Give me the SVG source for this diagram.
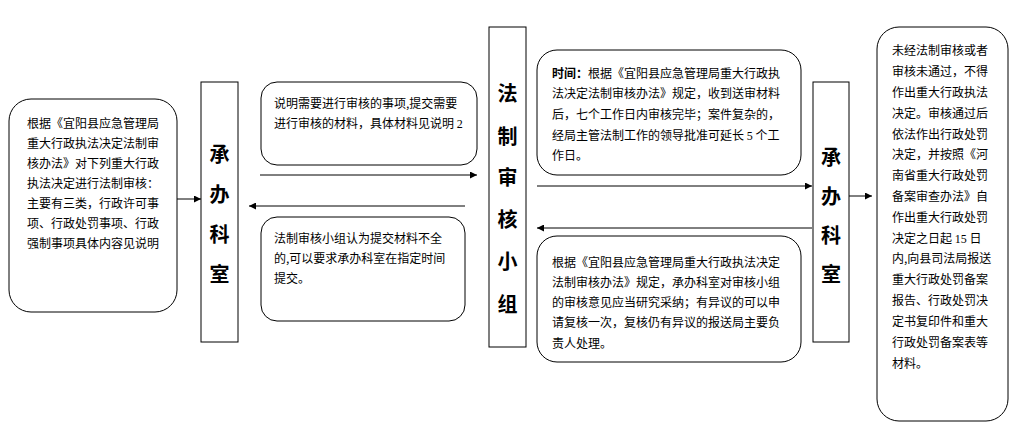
<svg xmlns="http://www.w3.org/2000/svg" width="1026" height="426" viewBox="0 0 1026 426">
<style>
.box{fill:#fff;stroke:#000;stroke-width:1}
.t{font-family:"Noto Sans CJK SC","Liberation Sans",sans-serif;font-size:12px;fill:#000}
.n{font-family:"Liberation Serif",serif}
.v{font-family:"Noto Sans CJK SC",sans-serif;font-size:20px;font-weight:bold;fill:#000;text-anchor:middle}
.c{stroke:#000;stroke-width:1;fill:none;marker-end:url(#ah)}
</style>
<defs>
<marker id="ah" viewBox="0 0 10 10" refX="10" refY="5" markerWidth="9" markerHeight="7" markerUnits="userSpaceOnUse" orient="auto">
<path d="M0,0 L10,5 L0,10 z" fill="#000"/>
</marker>
</defs>
<rect width="1026" height="426" fill="#fff"/>
<g id="connectors">
<line class="c" x1="177" y1="199" x2="201" y2="199"/>
<line class="c" x1="260" y1="175" x2="477" y2="175"/>
<line class="c" x1="465" y1="206" x2="249" y2="206"/>
<line class="c" x1="537" y1="186" x2="812" y2="186"/>
<line class="c" x1="812" y1="228" x2="537" y2="228"/>
<line class="c" x1="849" y1="196" x2="872" y2="196"/>
</g>
<g id="n_scope">
<rect class="box" x="9" y="99" width="168" height="213" rx="22"/>
<text class="t" x="27"><tspan x="27" y="127.5">根据《宜阳县应急管理局</tspan><tspan x="27" y="147.5">重大行政执法决定法制审</tspan><tspan x="27" y="167.5">核办法》对下列重大行政</tspan><tspan x="27" y="187.5">执法决定进行法制审核：</tspan><tspan x="27" y="207.5">主要有三类，行政许可事</tspan><tspan x="27" y="227.5">项、行政处罚事项、行政</tspan><tspan x="27" y="247.5">强制事项具体内容见说明</tspan></text>
</g>
<g id="n_dept1">
<rect class="box" x="201" y="82" width="37" height="260"/>
<text class="v" x="219.5" y="162">承</text>
<text class="v" x="219.5" y="202">办</text>
<text class="v" x="219.5" y="242">科</text>
<text class="v" x="219.5" y="282">室</text>
</g>
<g id="n_submit">
<rect class="box" x="261" y="82" width="216" height="83" rx="16"/>
<text class="t"><tspan x="274" y="107.5">说明需要进行审核的事项,提交需要</tspan><tspan x="274" y="127.5">进行审核的材料，具体材料见说明 <tspan class="n">2</tspan></tspan></text>
</g>
<g id="n_incomplete">
<rect class="box" x="261" y="217" width="204" height="104" rx="16"/>
<text class="t"><tspan x="274" y="242.5">法制审核小组认为提交材料不全</tspan><tspan x="274" y="262.5">的,可以要求承办科室在指定时间</tspan><tspan x="274" y="283">提交。</tspan></text>
</g>
<g id="n_group">
<rect class="box" x="489" y="27" width="37" height="320"/>
<text class="v" x="507.5" y="101">法</text>
<text class="v" x="507.5" y="144">制</text>
<text class="v" x="507.5" y="185">审</text>
<text class="v" x="507.5" y="227">核</text>
<text class="v" x="507.5" y="269">小</text>
<text class="v" x="507.5" y="312">组</text>
</g>
<g id="n_time">
<rect class="box" x="537" y="50" width="264" height="125" rx="20"/>
<text class="t"><tspan x="552" y="77.5"><tspan font-weight="bold">时间：</tspan>根据《宜阳县应急管理局重大行政执</tspan><tspan x="552" y="97.5">法决定法制审核办法》规定，收到送审材料</tspan><tspan x="552" y="118.5">后，七个工作日内审核完毕；案件复杂的，</tspan><tspan x="552" y="139.5">经局主管法制工作的领导批准可延长 <tspan class="n">5</tspan> 个工</tspan><tspan x="552" y="159.5">作日。</tspan></text>
</g>
<g id="n_review">
<rect class="box" x="537" y="236" width="264" height="126" rx="20"/>
<text class="t"><tspan x="552" y="266.5">根据《宜阳县应急管理局重大行政执法决定</tspan><tspan x="552" y="286.5">法制审核办法》规定，承办科室对审核小组</tspan><tspan x="552" y="306.5">的审核意见应当研究采纳；有异议的可以申</tspan><tspan x="552" y="326.5">请复核一次，复核仍有异议的报送局主要负</tspan><tspan x="552" y="347.5">责人处理。</tspan></text>
</g>
<g id="n_dept2">
<rect class="box" x="813" y="82" width="36" height="260"/>
<text class="v" x="831" y="165">承</text>
<text class="v" x="831" y="204">办</text>
<text class="v" x="831" y="243">科</text>
<text class="v" x="831" y="282">室</text>
</g>
<g id="n_result">
<rect class="box" x="877" y="27" width="131" height="394" rx="22"/>
<text class="t"><tspan x="892" y="54.5">未经法制审核或者</tspan><tspan x="892" y="75.5">审核未通过，不得</tspan><tspan x="892" y="96.5">作出重大行政执法</tspan><tspan x="892" y="117.5">决定。审核通过后</tspan><tspan x="892" y="138.5">依法作出行政处罚</tspan><tspan x="892" y="158.5">决定，并按照《河</tspan><tspan x="892" y="179.5">南省重大行政处罚</tspan><tspan x="892" y="200.5">备案审查办法》自</tspan><tspan x="892" y="221.5">作出重大行政处罚</tspan><tspan x="892" y="242.5">决定之日起 <tspan class="n">15</tspan> 日</tspan><tspan x="892" y="262.5">内,向县司法局报送</tspan><tspan x="892" y="283.5">重大行政处罚备案</tspan><tspan x="892" y="304.5">报告、行政处罚决</tspan><tspan x="892" y="325.5">定书复印件和重大</tspan><tspan x="892" y="346.5">行政处罚备案表等</tspan><tspan x="892" y="367.5">材料。</tspan></text>
</g>
</svg>
